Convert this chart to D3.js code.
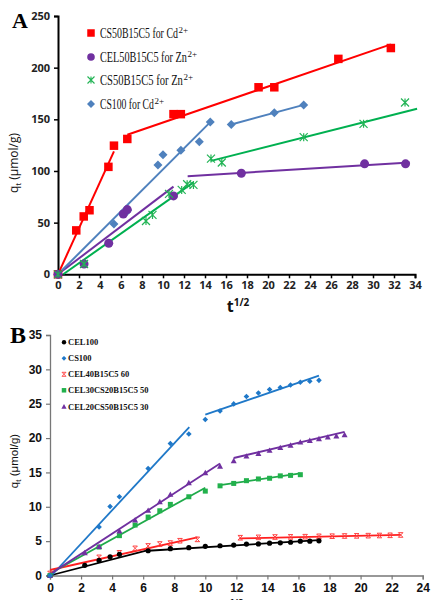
<!DOCTYPE html>
<html><head><meta charset="utf-8">
<script src="https://cdn.jsdelivr.net/npm/d3@7"></script>
<style>body{margin:0;background:#fff;overflow:hidden}svg{display:block}</style>
</head><body>
<svg id="c" width="436" height="600"></svg>
<script>
// ---------- Panel A data ----------
const aXTicks = [0,2,4,6,8,10,12,14,16,18,20,22,24,26,28,30,32,34];
const aYTicks = [0,50,100,150,200,250];
const aLegend = ["CS50B15C5 for Cd", "CEL50B15C5 for Zn", "CS50B15C5 for Zn", "CS100 for Cd"];
const aLegendSup = ["2+","2+","2+","2+"];
// CS50B15C5 for Cd2+
const aRedX = [0,1.74,2.45,3.0,4.8,5.33,6.6,11.0,11.7,19.1,20.6,26.7,31.7];
const aRedY = [0,42.5,56,62,104,124.5,131,155,155,181,181,208.5,219];
const aRedFit = [[[0,0],[5.33,119]],[[6.6,135],[31.7,222.5]]];
// CEL50B15C5 for Zn2+
const aPurX = [0,2.48,4.83,6.22,6.6,11.0,17.46,29.2,33.1];
const aPurY = [0,10,30,58.4,62.6,75.9,97.8,106.9,106.9];
const aPurFit = [[[0,0],[11.0,84.9]],[[12.35,95],[33.5,108.2]]];
// CS50B15C5 for Zn2+
const aGrnX = [0,2.48,8.38,9.0,10.57,11.78,12.3,12.9,14.57,15.6,23.4,29.1,33.05];
const aGrnY = [0,10,51.6,57.5,77.8,81.7,87.2,86.5,112,108.2,132.7,145.6,166.3];
const aGrnFit = [[[0.5,0],[12.9,89]],[[14.57,109.8],[34.2,160.2]]];
// CS100 for Cd2+
const aBluX = [0,5.33,6.5,6.63,9.52,10.0,11.7,13.46,14.5,16.5,20.6,23.4];
const aBluY = [0,48.7,60,62,105.9,115.6,120,128.2,147.3,145,156.3,163.8];
const aBluFit = [[[0,0],[14.5,147.3]],[[16.5,145],[23.4,164]]];

// ---------- Panel B data ----------
const bXTicks = [0,2,4,6,8,10,12,14,16,18,20,22,24];
const bYTicks = [0,5,10,15,20,25,30,35];
const bLegend = ["CEL100","CS100","CEL40B15C5 60","CEL30CS20B15C5 50","CEL20CS50B15C5 30"];
// CEL100
const bBlkX = [0,2.24,3.16,3.87,4.47,6.32,7.75,8.94,10.0,10.95,11.83,12.65,13.42,14.14,14.83,15.49,16.12,16.73,17.32];
const bBlkY = [0,1.48,2.2,2.73,3.08,3.6,3.9,4.05,4.24,4.33,4.43,4.57,4.6,4.7,4.75,4.84,5.0,5.0,5.05];
const bBlkFit = [[[0,0],[6.32,3.7]],[[6.32,3.6],[17.32,5.15]]];
// CS100
const bBluX = [0,3.16,3.87,4.47,6.32,7.75,8.94,10.0,10.95,11.83,12.65,13.42,14.14,14.83,15.49,16.12,16.73,17.32];
const bBluY = [0,7.05,10.05,11.46,15.58,19.2,20.6,22.7,23.95,24.97,26.05,26.55,27.06,27.35,27.73,28.12,28.27,28.4];
const bBluFit = [[[0.1,0],[8.97,21.6]],[[10.0,23.4],[17.32,29.1]]];
// CEL40B15C5 60
const bRedX = [0,3.16,4.47,5.48,6.32,7.07,7.75,8.37,9.49,12.25,13.42,14.49,15.49,16.43,17.32,18.17,18.97,19.75,20.49,21.21,21.9,22.58];
const bRedY = [0.3,2.64,3.3,3.95,4.3,4.58,4.72,5.06,5.26,5.5,5.55,5.6,5.62,5.65,5.7,5.72,5.75,5.77,5.8,5.82,5.85,5.9];
const bRedFit = [[[0,0.8],[9.49,5.55]],[[12.2,5.4],[22.58,5.92]]];
// CEL30CS20B15C5 50
const bGrnX = [0,3.16,4.47,5.48,6.32,7.07,7.75,8.94,10.0,10.95,11.83,12.65,13.42,14.14,14.83,15.49,16.12];
const bGrnY = [0,4.14,5.8,7.34,8.5,9.42,10.35,11.46,12.28,13.05,13.4,13.8,14.05,14.15,14.5,14.57,14.67];
const bGrnFit = [[[0,0.3],[10.0,12.77]],[[10.95,13.15],[16.12,14.85]]];
// CEL20CS50B15C5 30
const bPurX = [0,2.24,3.16,4.47,5.48,6.32,7.07,7.75,8.94,10.0,10.95,11.83,12.65,13.42,14.14,14.83,15.49,16.12,16.73,17.32,17.89,18.44,18.97];
const bPurY = [0,3.3,4.2,6.47,8.07,9.47,10.73,11.8,13.5,14.95,15.9,16.7,17.37,17.75,18.2,18.6,18.95,19.4,19.65,19.9,20.13,20.3,20.47];
const bPurFit = [[[0,0.2],[10.95,16.3]],[[11.83,17.1],[18.97,20.9]]];

const svg = d3.select("#c");

// ---------- marker helpers ----------
function square(g, x, y, s, col){ g.append("rect").attr("x",x-s/2).attr("y",y-s/2).attr("width",s).attr("height",s).attr("fill",col); }
function circle(g, x, y, r, col){ g.append("circle").attr("cx",x).attr("cy",y).attr("r",r).attr("fill",col); }
function diamond(g, x, y, r, col){ g.append("path").attr("d",`M${x},${y-r}L${x+r},${y}L${x},${y+r}L${x-r},${y}Z`).attr("fill",col); }
function star(g, x, y, r, col, w){ g.append("path").attr("d",`M${x-r},${y-r}L${x+r},${y+r}M${x-r},${y+r}L${x+r},${y-r}M${x},${y-r}L${x},${y+r}`).attr("stroke",col).attr("stroke-width",w).attr("fill","none"); }
function cross(g, x, y, r, col, w){ g.append("path").attr("d",`M${x-r},${y-r}L${x+r},${y+r}M${x-r},${y+r}L${x+r},${y-r}M${x-r},${y-r}L${x+r},${y-r}M${x-r},${y+r}L${x+r},${y+r}`).attr("stroke",col).attr("stroke-width",w).attr("fill","none"); }
function triangle(g, x, y, r, col){ g.append("path").attr("d",`M${x},${y-r}L${x+r},${y+r*0.8}L${x-r},${y+r*0.8}Z`).attr("fill",col); }

// ================= Panel A =================
{
  const x = d3.scaleLinear().domain([0,34]).range([58,415]);
  const y = d3.scaleLinear().domain([0,250]).range([274.3,16]);
  const g = svg.append("g");
  const font = "'Open Sans', 'Noto Sans', sans-serif";

  const xAx = g.append("g").attr("transform","translate(0,274.3)")
    .call(d3.axisBottom(x).tickValues(aXTicks).tickSize(4).tickPadding(3));
  const yAx = g.append("g").attr("transform","translate(58,0)")
    .call(d3.axisLeft(y).tickValues(aYTicks).tickSize(4).tickPadding(4));
  [xAx,yAx].forEach(a=>{
    a.select(".domain").attr("stroke","#000").attr("stroke-width",2);
    a.selectAll(".tick line").attr("stroke","#000").attr("stroke-width",1.5);
    a.selectAll("text").attr("font-family",font).attr("font-weight","bold").attr("font-size",11).attr("fill","#222");
  });

  const line = d3.line().x(d=>x(d[0])).y(d=>y(d[1]));
  const fits = [[aRedFit,"#ff0000"],[aPurFit,"#7030a0"],[aGrnFit,"#00b050"],[aBluFit,"#4f81bd"]];
  fits.forEach(([segs,col])=>segs.forEach(s=>g.append("path").attr("d",line(s)).attr("stroke",col).attr("stroke-width",2).attr("fill","none")));

  aBluX.forEach((v,i)=>diamond(g,x(v),y(aBluY[i]),4.5,"#4f81bd"));
  aRedX.forEach((v,i)=>square(g,x(v),y(aRedY[i]),8.5,"#ff0000"));
  aPurX.forEach((v,i)=>circle(g,x(v),y(aPurY[i]),4.5,"#7030a0"));
  aGrnX.forEach((v,i)=>star(g,x(v),y(aGrnY[i]),4,"#22b455",1.2));

  // legend (condensed serif look via horizontal scaling)
  const ly = [33,57,80,104];
  const lw = [78,87,83,54];
  square(g,91,ly[0],7.5,"#ff0000");
  circle(g,91,ly[1],3.8,"#7030a0");
  star(g,91,ly[2],3.5,"#22b455",1.1);
  diamond(g,91,ly[3],4,"#4f81bd");
  aLegend.forEach((t,i)=>{
    const lg = g.append("g");
    const tx = lg.append("text").attr("x",0).attr("y",0).attr("font-family","'Liberation Serif', serif").attr("font-size",15)
      .attr("fill","#111").text(t);
    const L = tx.node().getComputedTextLength();
    lg.attr("transform",`translate(100,${ly[i]+5}) scale(${lw[i]/L},1)`);
    g.append("text").attr("x",100.5+lw[i]).attr("y",ly[i]).attr("font-family","'Liberation Serif', serif").attr("font-size",9)
      .attr("fill","#111").text(aLegendSup[i]);
  });

  // axis titles
  const yt = g.append("text").attr("transform","translate(18,163) rotate(-90)").attr("text-anchor","middle")
    .attr("font-family",font).attr("font-size",12).attr("fill","#111");
  yt.append("tspan").text("q");
  yt.append("tspan").attr("dy",3).attr("font-size",8).text("t");
  yt.append("tspan").attr("dy",-3).text(" (μmol/g)");
  const xt = g.append("text").attr("x",238).attr("y",312).attr("text-anchor","middle")
    .attr("font-family",font).attr("font-weight","bold").attr("font-size",16).attr("fill","#111");
  xt.append("tspan").text("t");
  xt.append("tspan").attr("dy",-6).attr("font-size",10).text("1/2");
  g.append("text").attr("x",12).attr("y",28).attr("font-family","'Liberation Serif', serif").attr("font-weight","bold").attr("font-size",22).text("A");
}

// ================= Panel B =================
{
  const x = d3.scaleLinear().domain([0,24]).range([50,422.7]);
  const y = d3.scaleLinear().domain([0,35]).range([575.5,335]);
  const g = svg.append("g");
  const font = "'Liberation Sans', Arial, sans-serif";

  const xAx = g.append("g").attr("transform","translate(0,575.5)")
    .call(d3.axisBottom(x).tickValues(bXTicks).tickSize(4).tickPadding(4));
  const yAx = g.append("g").attr("transform","translate(50,0)")
    .call(d3.axisLeft(y).tickValues(bYTicks).tickSize(4).tickPadding(4));
  [xAx,yAx].forEach(a=>{
    a.select(".domain").attr("stroke","#777").attr("stroke-width",1.3);
    a.selectAll(".tick line").attr("stroke","#777").attr("stroke-width",1.2);
    a.selectAll("text").attr("font-family",font).attr("font-weight","bold").attr("font-size",12).attr("fill","#111");
  });

  const line = d3.line().x(d=>x(d[0])).y(d=>y(d[1]));
  const fits = [[bBlkFit,"#000"],[bBluFit,"#1f78c8"],[bRedFit,"#ff2020"],[bGrnFit,"#1faa4a"],[bPurFit,"#7030a0"]];
  fits.forEach(([segs,col])=>segs.forEach(s=>g.append("path").attr("d",line(s)).attr("stroke",col).attr("stroke-width",1.8).attr("fill","none")));

  bRedX.forEach((v,i)=>cross(g,x(v),y(bRedY[i]),2.3,"#ff4040",1));
  bBlkX.forEach((v,i)=>circle(g,x(v),y(bBlkY[i]),2.6,"#000"));
  bGrnX.forEach((v,i)=>square(g,x(v),y(bGrnY[i]),5,"#22b14c"));
  bPurX.forEach((v,i)=>triangle(g,x(v),y(bPurY[i]),3,"#7030a0"));
  bBluX.forEach((v,i)=>diamond(g,x(v),y(bBluY[i]),2.8,"#1f78c8"));

  // legend
  const ly = [342.3,358.3,374.3,390.3,406.7];
  circle(g,64,ly[0],2.2,"#000");
  diamond(g,64,ly[1],2.4,"#1f78c8");
  cross(g,64,ly[2],2,"#ff4040",0.9);
  square(g,64,ly[3],4.5,"#22b14c");
  triangle(g,64,ly[4],2.6,"#7030a0");
  bLegend.forEach((t,i)=>g.append("text").attr("x",68).attr("y",ly[i]+3).attr("font-family","'Liberation Serif', serif")
    .attr("font-weight","bold").attr("font-size",8.5).attr("fill","#111").text(t));

  const yt = g.append("text").attr("transform","translate(18,461) rotate(-90)").attr("text-anchor","middle")
    .attr("font-family",font).attr("font-size",11.5).attr("fill","#111");
  yt.append("tspan").text("q");
  yt.append("tspan").attr("dy",3).attr("font-size",8).text("t");
  yt.append("tspan").attr("dy",-3).text(" (μmol/g)");
  // x title sits mostly below the visible area, as in the reference
  const xt = g.append("text").attr("x",234).attr("y",614).attr("text-anchor","middle")
    .attr("font-family",font).attr("font-weight","bold").attr("font-size",15).attr("fill","#111");
  xt.append("tspan").text("t");
  xt.append("tspan").attr("dy",-7).attr("font-size",10).text("1/2");
  g.append("text").attr("x",10).attr("y",343).attr("font-family","'Liberation Serif', serif").attr("font-weight","bold").attr("font-size",24).text("B");
}
</script>
</body></html>
